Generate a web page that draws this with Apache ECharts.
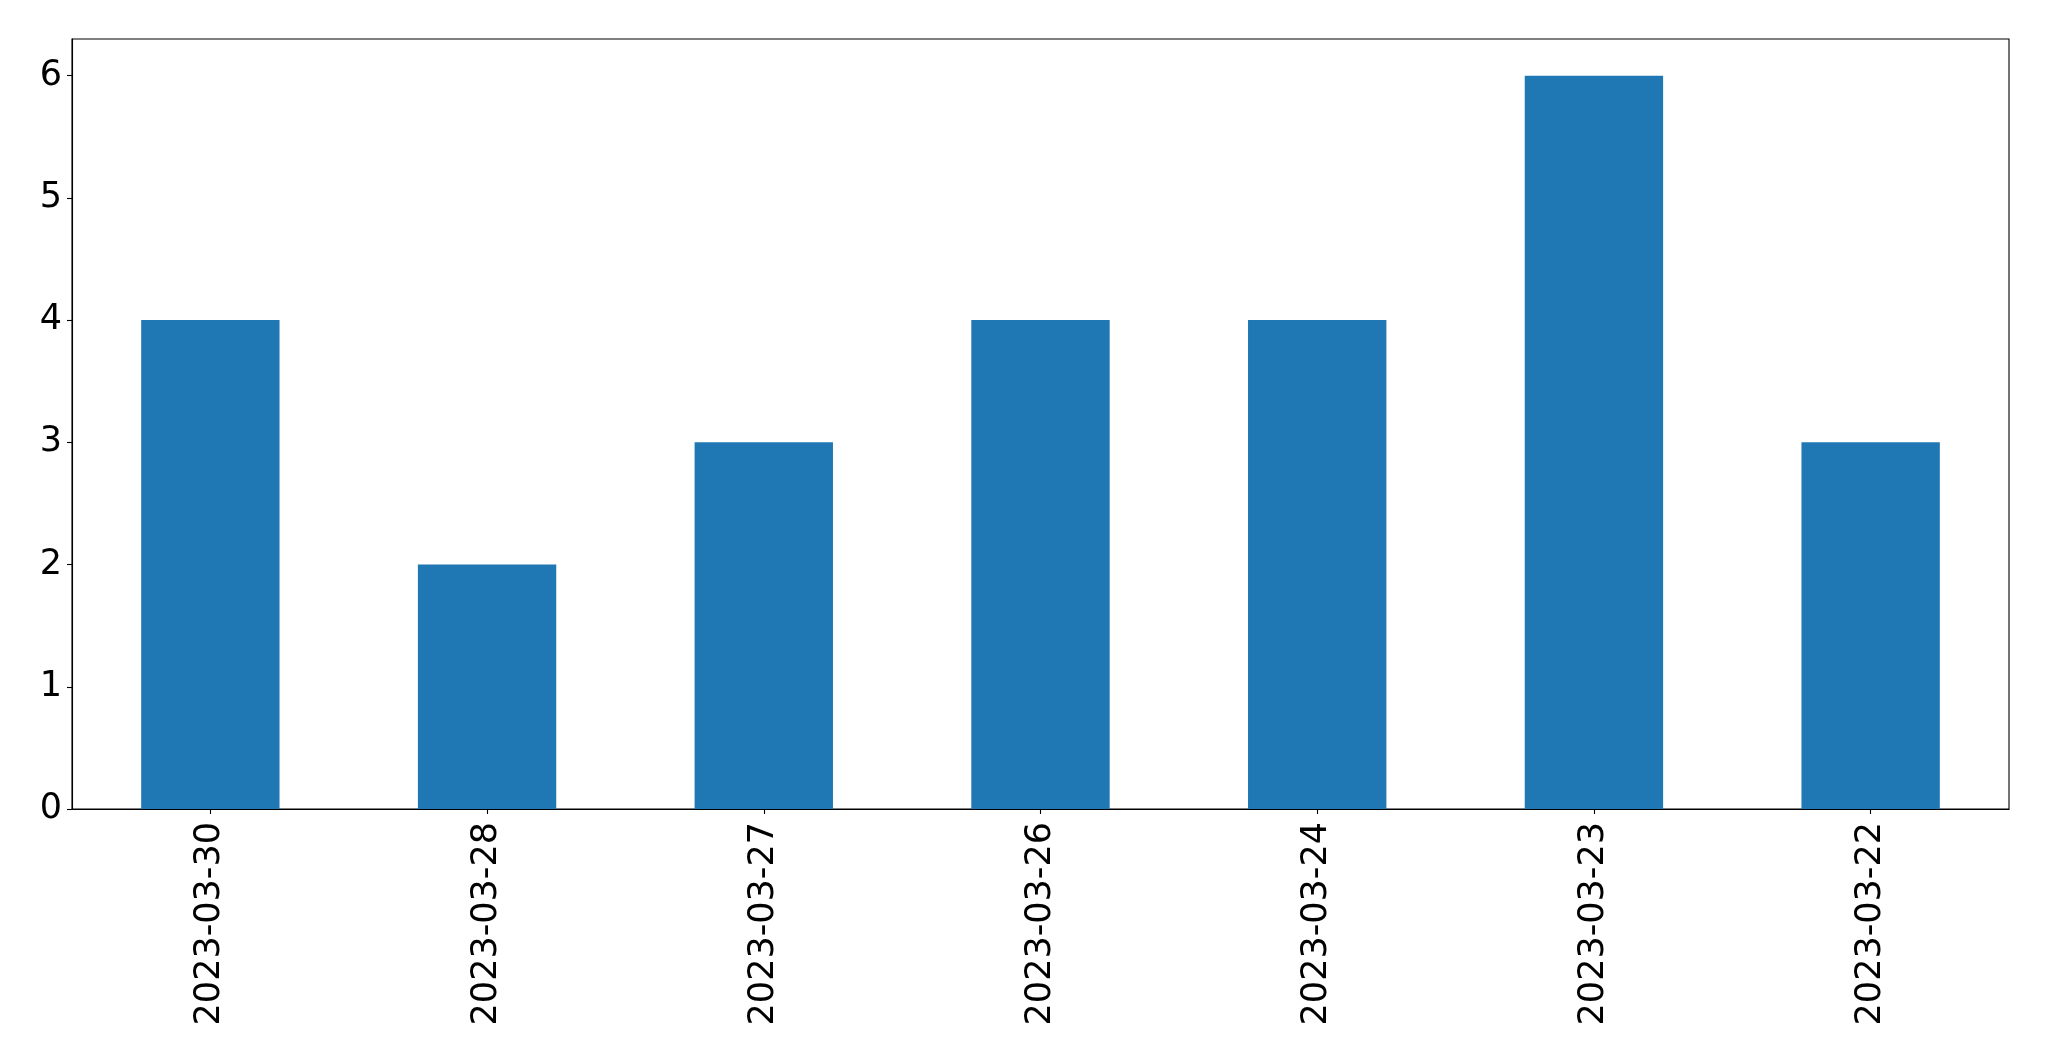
<!DOCTYPE html>
<html>
<head>
<meta charset="utf-8">
<script src="https://cdn.jsdelivr.net/npm/echarts@6/dist/echarts.min.js"></script>
<style>html,body{margin:0;padding:0;background:#fff}#c{width:2049px;height:1061px}</style>
</head>
<body>
<div id="c"></div>
<script>
const categories = ["2023-03-30","2023-03-28","2023-03-27","2023-03-26","2023-03-24","2023-03-23","2023-03-22"];
const values = [4,2,3,4,4,6,3];
const yTicks = [0,1,2,3,4,5,6];

const chart = echarts.init(document.getElementById('c'));
chart.setOption({
  animation: false,
  backgroundColor: '#fff',
  grid: {left: 72, top: 39, right: 40, bottom: 252, show: true, borderColor: '#000', borderWidth: 1.1, backgroundColor: 'transparent'},
  xAxis: {
    type: 'category',
    data: categories,
    axisLine: {show: true, lineStyle: {color: '#000', width: 1.1}},
    axisTick: {show: true, alignWithLabel: true, length: 5, lineStyle: {color: '#000', width: 1.1}},
    axisLabel: {rotate: 90, margin: 13, fontFamily: 'DejaVu Sans', fontSize: 35, color: '#000', interval: 0},
    splitLine: {show: false}
  },
  yAxis: {
    type: 'value',
    min: 0, max: 6.3, interval: 1,
    axisLine: {show: true, lineStyle: {color: '#000', width: 1.1}},
    axisTick: {show: true, length: 5, customValues: yTicks, lineStyle: {color: '#000', width: 1.1}},
    axisLabel: {customValues: yTicks, margin: 10, padding: [10, 0, 0, 0], fontFamily: 'DejaVu Sans', fontSize: 35, color: '#000'},
    splitLine: {show: false}
  },
  series: [{
    type: 'bar',
    data: values,
    barWidth: '50%',
    itemStyle: {color: '#1f77b4'}
  }]
});
</script>
</body>
</html>
